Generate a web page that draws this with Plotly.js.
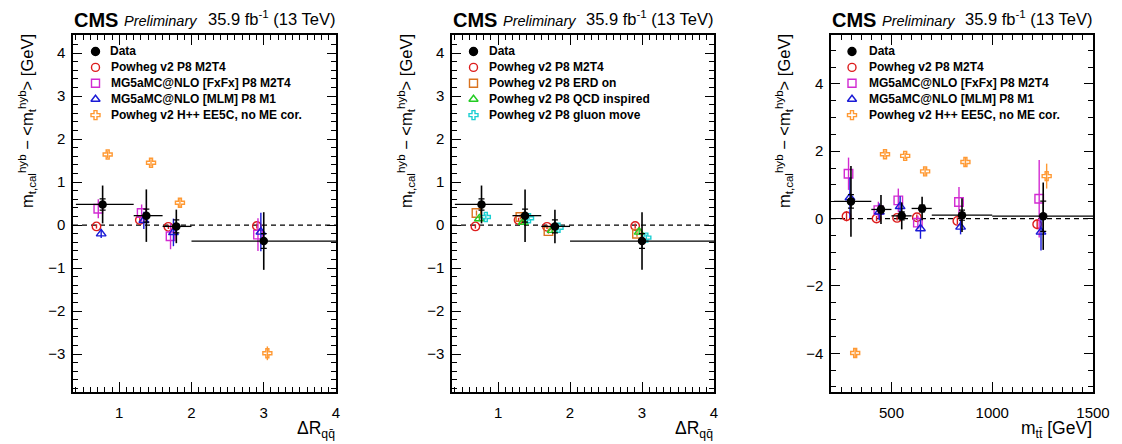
<!DOCTYPE html>
<html><head><meta charset="utf-8">
<script src="https://cdn.plot.ly/plotly-3.0.1.min.js"></script>
<style>html,body{margin:0;padding:0;background:#fff}</style>
</head><body>
<div id="chart" style="width:1122px;height:444px"></div>
<script>
// ---------------- data: ΔR_qq̄ panels ----------------
const drBinLo = [0.4, 1.2, 1.6, 2.0];
const drBinHi = [1.2, 1.6, 2.0, 4.0];
const drDataX = [0.77, 1.375, 1.79, 3.0];
const drDataY = [0.48, 0.22, -0.03, -0.37];
const drDataTot = [0.44, 0.61, 0.39, 0.67];
const drDataStat = [0.13, 0.15, 0.15, 0.17];

const drM2T4X = [0.685, 1.285, 1.68, 2.905];
const drM2T4Y = [-0.03, 0.12, -0.04, -0.02];
const drM2T4E = [0.05, 0.05, 0.05, 0.06];

const drFxFxX = [0.71, 1.31, 1.71, 2.92];
const drFxFxY = [0.38, 0.28, -0.26, -0.22];
const drFxFxE = [0.22, 0.20, 0.30, 0.38];

const drMLMX = [0.75, 1.34, 1.75, 2.96];
const drMLMY = [-0.20, 0.11, -0.17, -0.16];
const drMLME = [0.10, 0.20, 0.32, 0.45];

const drHppX = [0.84, 1.44, 1.84, 3.05];
const drHppY = [1.64, 1.45, 0.52, -2.98];
const drHppE = [0.08, 0.08, 0.10, 0.16];

const drERDX = [0.70, 1.31, 1.70, 2.93];
const drERDY = [0.28, 0.19, -0.14, -0.20];
const drERDE = [0.06, 0.06, 0.06, 0.07];

const drQCDX = [0.74, 1.35, 1.75, 2.96];
const drQCDY = [0.15, 0.07, -0.12, -0.16];
const drQCDE = [0.06, 0.06, 0.06, 0.07];

const drGMX = [0.83, 1.43, 1.84, 3.06];
const drGMY = [0.19, 0.16, -0.06, -0.29];
const drGME = [0.06, 0.06, 0.06, 0.07];

// ---------------- data: m_tt̄ panel ----------------
const mBinLo = [215, 400, 500, 600, 700, 1000];
const mBinHi = [400, 500, 600, 700, 1000, 1500];
const mDataX = [299, 448, 551, 652, 850, 1253];
const mDataY = [0.51, 0.27, 0.08, 0.30, 0.10, 0.07];
const mDataTot = [1.05, 0.43, 0.40, 0.35, 0.50, 1.00];
const mDataStat = [0.20, 0.10, 0.12, 0.10, 0.15, 0.45];

const mM2T4X = [277, 426, 528, 626, 827, 1223];
const mM2T4Y = [0.07, 0.00, 0.02, 0.04, -0.07, -0.17];
const mM2T4E = [0.15, 0.08, 0.08, 0.08, 0.10, 0.15];

const mFxFxX = [287, 435, 534, 631, 835, 1233];
const mFxFxY = [1.33, 0.25, 0.54, -0.12, 0.49, 0.59];
const mFxFxE = [0.48, 0.25, 0.35, 0.20, 0.45, 1.15];

const mMLMX = [294, 440, 543, 644, 843, 1242];
const mMLMY = [0.62, 0.20, 0.36, -0.30, -0.25, -0.40];
const mMLME = [0.60, 0.25, 0.30, 0.30, 0.22, 0.55];

const mHppX = [320, 468, 568, 667, 867, 1270];
const mHppY = [-3.99, 1.91, 1.86, 1.40, 1.68, 1.26];
const mHppE = [0.15, 0.10, 0.10, 0.12, 0.12, 0.37];

// ---------------- labels ----------------
const legend1 = ['Data', 'Powheg v2 P8 M2T4', 'MG5aMC@NLO [FxFx] P8 M2T4', 'MG5aMC@NLO [MLM] P8 M1', 'Powheg v2 H++ EE5C, no ME cor.'];
const legend2 = ['Data', 'Powheg v2 P8 M2T4', 'Powheg v2 P8 ERD on', 'Powheg v2 P8 QCD inspired', 'Powheg v2 P8 gluon move'];
const drTicks = [1, 2, 3, 4];
const mTicks = [500, 1000, 1500];

// ---------------- styling / geometry ----------------
const W = 1122, H = 444;
const FONT = 'Liberation Sans, Arial, Helvetica, sans-serif';
const panelL = [73, 452, 831], panelR = [336, 714, 1093];
const panelT = 35, panelB = 392;
const px = v => v / W, py = v => 1 - v / H;

const C_RED = '#dd1c1c', C_MAG = '#d22ad2', C_BLUE = '#1a1ad6', C_ORA = '#ff9933',
      C_ERD = '#d9731f', C_GRN = '#22cc22', C_CYA = '#1ccfd2';
const CROSS_SIZE = 7.5;

function diff(a, b) { return a.map((v, i) => v - b[i]); }

function dataTraces(xa, ya, x, y, lo, hi, tot, stat) {
  return [
    { type: 'scatter', mode: 'markers', x: x, y: y, xaxis: xa, yaxis: ya, showlegend: false,
      marker: { size: 1, opacity: 0 },
      error_y: { type: 'data', array: stat, width: 3, thickness: 1.2, color: '#000' },
      hoverinfo: 'skip' },
    { type: 'scatter', mode: 'markers', x: x, y: y, xaxis: xa, yaxis: ya, showlegend: false,
      marker: { symbol: 'circle', size: 8.5, color: '#000' },
      error_x: { type: 'data', symmetric: false, array: diff(hi, x), arrayminus: diff(x, lo), width: 0, thickness: 1.3, color: '#000' },
      error_y: { type: 'data', array: tot, width: 0, thickness: 1.6, color: '#000' } }
  ];
}
function mc(xa, ya, x, y, e, symbol, color, size) {
  return { type: 'scatter', mode: 'markers', x: x, y: y, xaxis: xa, yaxis: ya, showlegend: false,
    marker: { symbol: symbol, size: size || 8.5, color: color, line: { width: 1.4, color: color } },
    error_y: { type: 'data', array: e, width: 0, thickness: 1.4, color: color } };
}

const traces = [];
// panel 1
traces.push(mc('x', 'y', drM2T4X, drM2T4Y, drM2T4E, 'circle-open', C_RED));
traces.push(mc('x', 'y', drFxFxX, drFxFxY, drFxFxE, 'square-open', C_MAG));
traces.push(mc('x', 'y', drMLMX, drMLMY, drMLME, 'triangle-up-open', C_BLUE));
traces.push(mc('x', 'y', drHppX, drHppY, drHppE, 'cross-open', C_ORA, CROSS_SIZE));
traces.push(...dataTraces('x', 'y', drDataX, drDataY, drBinLo, drBinHi, drDataTot, drDataStat));
// panel 2
traces.push(mc('x2', 'y2', drM2T4X, drM2T4Y, drM2T4E, 'circle-open', C_RED));
traces.push(mc('x2', 'y2', drERDX, drERDY, drERDE, 'square-open', C_ERD));
traces.push(mc('x2', 'y2', drQCDX, drQCDY, drQCDE, 'triangle-up-open', C_GRN));
traces.push(mc('x2', 'y2', drGMX, drGMY, drGME, 'cross-open', C_CYA, CROSS_SIZE));
traces.push(...dataTraces('x2', 'y2', drDataX, drDataY, drBinLo, drBinHi, drDataTot, drDataStat));
// panel 3
traces.push(mc('x3', 'y3', mM2T4X, mM2T4Y, mM2T4E, 'circle-open', C_RED));
traces.push(mc('x3', 'y3', mFxFxX, mFxFxY, mFxFxE, 'square-open', C_MAG));
traces.push(mc('x3', 'y3', mMLMX, mMLMY, mMLME, 'triangle-up-open', C_BLUE));
traces.push(mc('x3', 'y3', mHppX, mHppY, mHppE, 'cross-open', C_ORA, CROSS_SIZE));
traces.push(...dataTraces('x3', 'y3', mDataX, mDataY, mBinLo, mBinHi, mDataTot, mDataStat));

// legend markers (overlay axes in pixel units)
const legRowY0 = 51.5, legRowDY = 15.9;
const legMarkX = [95.5, 473.5, 852], legTextX = [108.5, 486.5, 866.5];
const legSymbols = [
  [['circle', '#000', 8], ['circle-open', C_RED, 8], ['square-open', C_MAG, 8], ['triangle-up-open', C_BLUE, 8], ['cross-open', C_ORA, CROSS_SIZE]],
  [['circle', '#000', 8], ['circle-open', C_RED, 8], ['square-open', C_ERD, 8], ['triangle-up-open', C_GRN, 8], ['cross-open', C_CYA, CROSS_SIZE]],
  [['circle', '#000', 8], ['circle-open', C_RED, 8], ['square-open', C_MAG, 8], ['triangle-up-open', C_BLUE, 8], ['cross-open', C_ORA, CROSS_SIZE]]
];
const legTexts = [legend1, legend2, legend1];
for (let p = 0; p < 3; p++) {
  legSymbols[p].forEach((s, i) => {
    traces.push({ type: 'scatter', mode: 'markers', x: [legMarkX[p]], y: [legRowY0 + i * legRowDY],
      xaxis: 'x' + (p + 4), yaxis: 'y' + (p + 4), showlegend: false, hoverinfo: 'skip',
      marker: { symbol: s[0], size: s[2], color: s[1], line: { width: 1.4, color: s[1] } } });
  });
}

function xax(p, range, dtick, minor, tickvals) {
  return { domain: [px(panelL[p]), px(panelR[p])], range: range, anchor: 'y' + (p ? p + 1 : ''),
    tickmode: 'array', tickvals: tickvals, ticks: 'inside', ticklen: 10, tickwidth: 1, tickcolor: '#000',
    minor: { ticks: 'inside', ticklen: 5, dtick: minor, tick0: 0, tickcolor: '#000', tickwidth: 1 },
    showline: true, linewidth: 1.6, linecolor: '#000', mirror: 'allticks', showgrid: false, zeroline: false,
    tickfont: { family: FONT, size: 15, color: '#000' }, fixedrange: true, ticklabelstandoff: 6 };
}
function yax(p, range, dtick, minor) {
  return { domain: [py(panelB), py(panelT)], range: range, anchor: 'x' + (p ? p + 1 : ''),
    dtick: dtick, tick0: 0, ticks: 'inside', ticklen: 9, tickwidth: 1, tickcolor: '#000',
    minor: { ticks: 'inside', ticklen: 5, dtick: minor, tick0: 0, tickcolor: '#000', tickwidth: 1 },
    showline: true, linewidth: 1.6, linecolor: '#000', mirror: 'allticks', showgrid: false, zeroline: false,
    tickfont: { family: FONT, size: 15, color: '#000' }, fixedrange: true, ticklabelstandoff: 3 };
}
function ovx(p) { return { domain: [px(panelL[p]), px(panelR[p])], range: [panelL[p], panelR[p]], visible: false, showticklabels: false, fixedrange: true, anchor: 'y' + (p + 4) }; }
function ovy(p) { return { domain: [py(panelB), py(panelT)], range: [panelB, panelT], visible: false, showticklabels: false, fixedrange: true, anchor: 'x' + (p + 4) }; }

const annotations = [];
const yTitle = 'm<sub>t,cal</sub><sup>hyb</sup> \u2212 &lt;m<sub>t</sub><sup>hyb</sup>&gt; [GeV]';
const xTitles = ['\u0394R<sub>q\u0071\u0304</sub>', '\u0394R<sub>q\u0071\u0304</sub>', 'm<sub>t\u0074\u0304</sub> [GeV]'];
const yTitleX = [27, 406, 784];
for (let p = 0; p < 3; p++) {
  annotations.push({ xref: 'paper', yref: 'paper', x: px(panelL[p] - 1), y: py(19.5), xanchor: 'left', yanchor: 'middle',
    text: '<b>CMS</b>', showarrow: false, font: { family: FONT, size: 20, color: '#000' } });
  annotations.push({ xref: 'paper', yref: 'paper', x: px(panelL[p] + 49), y: py(20.5), xanchor: 'left', yanchor: 'middle',
    text: '<i>Preliminary</i>', showarrow: false, font: { family: FONT, size: 14.5, color: '#000' } });
  annotations.push({ xref: 'paper', yref: 'paper', x: px(panelR[p] + 1), y: py(18), xanchor: 'right', yanchor: 'middle',
    text: '35.9 fb<sup>-1</sup> (13 TeV)', showarrow: false, font: { family: FONT, size: 16.5, color: '#000' } });
  annotations.push({ xref: 'paper', yref: 'paper', x: px(yTitleX[p]), y: py(32), xanchor: 'center', yanchor: 'top',
    textangle: -90, text: yTitle, showarrow: false, font: { family: FONT, size: 16.5, color: '#000' } });
  annotations.push({ xref: 'paper', yref: 'paper', x: px(panelR[p] + 1), y: py(416), xanchor: 'right', yanchor: 'top',
    text: xTitles[p], showarrow: false, font: { family: FONT, size: 17.5, color: '#000' } });
  legTexts[p].forEach((t, i) => {
    annotations.push({ xref: 'paper', yref: 'paper', x: px(legTextX[p]), y: py(legRowY0 + i * legRowDY), xanchor: 'left', yanchor: 'middle',
      text: '<b>' + t + '</b>', showarrow: false, font: { family: FONT, size: 12, color: '#000' } });
  });
}

const shapes = ['y', 'y2', 'y3'].map((ya, p) => ({ type: 'line', xref: 'x' + (p ? p + 1 : '') + ' domain', x0: 0, x1: 1,
  yref: ya, y0: 0, y1: 0, layer: 'below', line: { color: '#000', width: 1.2, dash: '5px,4px' } }));

const layout = {
  width: W, height: H, margin: { l: 0, r: 0, t: 0, b: 0 }, paper_bgcolor: '#fff', plot_bgcolor: 'rgba(0,0,0,0)',
  showlegend: false, font: { family: FONT, color: '#000' },
  xaxis: xax(0, [0.36, 4.0], 1, 0.1, drTicks), yaxis: yax(0, [-3.88, 4.42], 1, 0.2),
  xaxis2: xax(1, [0.36, 4.0], 1, 0.1, drTicks), yaxis2: yax(1, [-3.88, 4.42], 1, 0.2),
  xaxis3: xax(2, [200, 1500], 500, 50, mTicks), yaxis3: yax(2, [-5.15, 5.45], 2, 0.5),
  xaxis4: ovx(0), yaxis4: ovy(0), xaxis5: ovx(1), yaxis5: ovy(1), xaxis6: ovx(2), yaxis6: ovy(2),
  annotations: annotations, shapes: shapes
};
Plotly.newPlot('chart', traces, layout, { staticPlot: true, displayModeBar: false });
</script>
</body></html>
